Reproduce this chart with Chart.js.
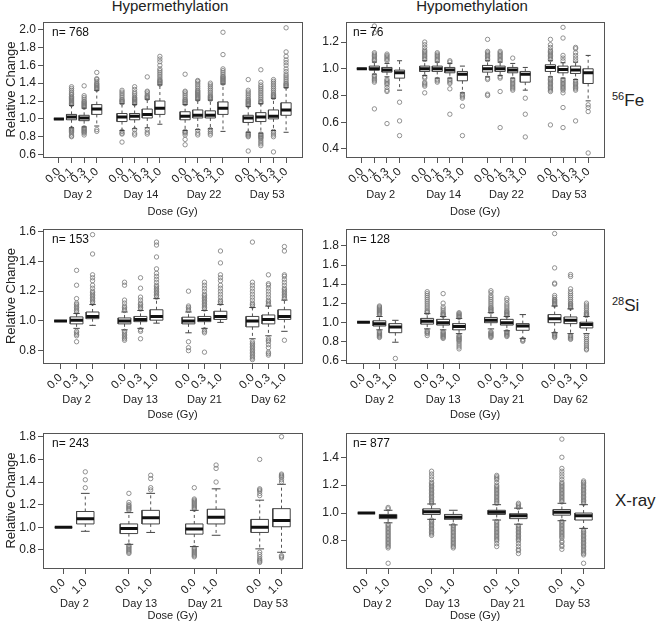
<!DOCTYPE html>
<html>
<head>
<meta charset="utf-8">
<script src="https://cdn.jsdelivr.net/npm/chart.js@4/dist/chart.umd.min.js"></script>
<style>
  body { margin: 0; background: #fff; font-family: "Liberation Sans", Arial, sans-serif; color: #222; }
  #wrap { position: relative; width: 658px; height: 623px; overflow: hidden; }
  canvas { position: absolute; }
  .coltitle { position: absolute; top: -2px; font-size: 15px; line-height: 15px; transform: translateX(-50%); white-space: nowrap; }
  .rowlabel { position: absolute; font-size: 17px; line-height: 20px; white-space: nowrap; }
  .rowlabel sup { font-size: 11px; vertical-align: 6px; }
</style>
</head>
<body>
<div id="wrap">
  <div class="coltitle" style="left:170px">Hypermethylation</div>
  <div class="coltitle" style="left:472px">Hypomethylation</div>
  <div class="rowlabel" style="left:612px;top:86px"><sup>56</sup>Fe</div>
  <div class="rowlabel" style="left:612px;top:291px"><sup>28</sup>Si</div>
  <div class="rowlabel" style="left:615px;top:491px">X-ray</div>

  <canvas id="feHyper" width="320" height="207" style="left:0;top:12px"></canvas>
  <canvas id="feHypo" width="338" height="207" style="left:320px;top:12px"></canvas>
  <canvas id="siHyper" width="320" height="203" style="left:0;top:219px"></canvas>
  <canvas id="siHypo" width="338" height="203" style="left:320px;top:219px"></canvas>
  <canvas id="xHyper" width="320" height="200" style="left:0;top:423px"></canvas>
  <canvas id="xHypo" width="338" height="200" style="left:320px;top:423px"></canvas>
</div>
<script>
// categories
const feDays = ["Day 2", "Day 14", "Day 22", "Day 53"];
const feDoses = ["0.0", "0.1", "0.3", "1.0"];
const siDays = ["Day 2", "Day 13", "Day 21", "Day 62"];
const siDoses = ["0.0", "0.3", "1.0"];
const xDays = ["Day 2", "Day 13", "Day 21", "Day 53"];
const xDoses = ["0.0", "1.0"];

// y tick labels
const feHyperTicks = [0.6, 0.8, 1.0, 1.2, 1.4, 1.6, 1.8, 2.0];
const feHypoTicks = [0.4, 0.6, 0.8, 1.0, 1.2];
const siHyperTicks = [0.8, 1.0, 1.2, 1.4, 1.6];
const siHypoTicks = [0.6, 0.8, 1.0, 1.2, 1.4, 1.6, 1.8];
const xHyperTicks = [0.8, 1.0, 1.2, 1.4, 1.6, 1.8];
const xHypoTicks = [0.8, 1.0, 1.2, 1.4];

// box stats per box: [lower whisker, q1, median, q3, upper whisker]
const feHyperBoxes = [
  [1, 1, 1, 1, 1], [0.90, 0.99, 1.02, 1.05, 1.15], [0.91, 0.98, 1.01, 1.04, 1.12], [0.92, 1.05, 1.11, 1.16, 1.32],
  [0.87, 0.97, 1.02, 1.06, 1.17], [0.89, 0.99, 1.03, 1.06, 1.16], [0.90, 1.01, 1.05, 1.11, 1.22], [0.94, 1.05, 1.12, 1.20, 1.38],
  [0.87, 0.99, 1.03, 1.08, 1.16], [0.88, 1.01, 1.04, 1.10, 1.21], [0.89, 1.01, 1.04, 1.09, 1.21], [0.86, 1.05, 1.12, 1.19, 1.39],
  [0.85, 0.96, 1.01, 1.04, 1.14], [0.84, 0.97, 1.02, 1.07, 1.17], [0.87, 1.00, 1.03, 1.10, 1.23], [0.85, 1.04, 1.10, 1.18, 1.35]
];
const feHyperOut = [
  [],
  [1.16, 1.17, 1.18, 1.19, 1.20, 1.21, 1.22, 1.23, 1.24, 1.25, 1.27, 1.28, 1.30, 1.32, 1.34, 1.36, 0.89, 0.88, 0.87, 0.86, 0.85, 0.83, 0.81, 0.80],
  [1.13, 1.14, 1.15, 1.16, 1.17, 1.18, 1.19, 1.20, 1.22, 1.24, 1.26, 1.37, 0.90, 0.89, 0.88, 0.87, 0.86, 0.85, 0.84, 0.82],
  [1.33, 1.34, 1.35, 1.36, 1.37, 1.38, 1.39, 1.40, 1.42, 1.44, 1.45, 1.52, 0.88, 0.86],
  [1.18, 1.19, 1.20, 1.21, 1.22, 1.24, 1.26, 1.28, 1.30, 1.32, 0.86, 0.84, 0.83, 0.74],
  [1.17, 1.18, 1.19, 1.20, 1.21, 1.22, 1.23, 1.24, 1.26, 1.28, 1.30, 1.33, 1.36, 0.88, 0.84, 0.82],
  [1.23, 1.24, 1.25, 1.26, 1.28, 1.30, 1.31, 1.47, 0.88, 0.85, 0.83],
  [1.39, 1.40, 1.41, 1.42, 1.43, 1.44, 1.46, 1.48, 1.50, 1.52, 1.54, 1.56, 1.60, 1.64, 1.67, 1.70],
  [1.17, 1.18, 1.19, 1.20, 1.21, 1.22, 1.24, 1.26, 1.28, 1.30, 1.31, 1.50, 0.86, 0.85, 0.84, 0.82, 0.77, 0.71],
  [1.22, 1.23, 1.24, 1.25, 1.26, 1.27, 1.28, 1.29, 1.30, 1.31, 1.32, 1.34, 1.36, 1.38, 1.40, 1.42, 1.43, 0.87, 0.84, 0.82],
  [1.22, 1.23, 1.24, 1.25, 1.26, 1.28, 1.30, 1.32, 1.34, 1.36, 1.38, 1.40, 0.88, 0.86, 0.84, 0.82],
  [1.40, 1.41, 1.42, 1.43, 1.44, 1.45, 1.46, 1.47, 1.48, 1.50, 1.52, 1.54, 1.56, 1.72, 1.97],
  [1.15, 1.16, 1.17, 1.18, 1.19, 1.20, 1.21, 1.22, 1.24, 1.26, 1.28, 1.30, 1.32, 1.44, 0.84, 0.83, 0.82, 0.81, 0.80, 0.64],
  [1.18, 1.19, 1.20, 1.22, 1.24, 1.26, 1.28, 1.30, 1.32, 1.34, 1.36, 1.38, 1.41, 1.55, 0.83, 0.82, 0.81, 0.80, 0.79, 0.78, 0.76, 0.74, 0.72, 0.70],
  [1.24, 1.25, 1.26, 1.27, 1.28, 1.30, 1.32, 1.34, 1.36, 1.38, 1.40, 1.42, 1.44, 0.86, 0.84, 0.82, 0.80, 0.63],
  [1.36, 1.37, 1.38, 1.39, 1.40, 1.42, 1.44, 1.46, 1.48, 1.50, 1.53, 1.56, 1.60, 1.63, 1.66, 1.70, 1.75, 2.02]
];

const feHypoBoxes = [
  [1, 1, 1, 1, 1], [0.96, 0.99, 1.00, 1.02, 1.05], [0.94, 0.975, 0.99, 1.01, 1.04], [0.84, 0.93, 0.97, 0.99, 1.06],
  [0.95, 0.98, 1.00, 1.02, 1.06], [0.93, 0.98, 1.00, 1.02, 1.05], [0.93, 0.97, 0.99, 1.01, 1.04], [0.82, 0.91, 0.96, 0.98, 1.02],
  [0.94, 0.975, 1.00, 1.025, 1.06], [0.95, 0.98, 1.00, 1.02, 1.05], [0.93, 0.97, 0.99, 1.01, 1.04], [0.84, 0.90, 0.96, 0.98, 1.01],
  [0.94, 0.98, 1.01, 1.03, 1.06], [0.93, 0.97, 0.995, 1.02, 1.045], [0.92, 0.965, 0.99, 1.02, 1.05], [0.76, 0.89, 0.97, 1.00, 1.10]
];
const feHypoOut = [
  [],
  [1.06, 1.07, 1.08, 1.09, 1.10, 1.11, 1.12, 1.27, 1.32, 0.95, 0.94, 0.93, 0.92, 0.91, 0.90, 0.70],
  [1.06, 1.07, 1.08, 1.09, 1.10, 1.11, 0.92, 0.91, 0.90, 0.89, 0.88, 0.86, 0.84, 0.83, 0.59],
  [0.75, 0.61, 0.50],
  [1.07, 1.08, 1.09, 1.10, 1.11, 1.12, 1.13, 1.14, 1.16, 1.18, 1.20, 0.94, 0.93, 0.90, 0.89, 0.88, 0.87, 0.82],
  [1.06, 1.07, 1.08, 1.09, 1.10, 1.11, 1.12, 0.92, 0.91, 0.90],
  [1.05, 1.06, 0.92, 0.91, 0.90, 0.89, 0.85, 0.66],
  [0.81, 0.80, 0.79, 0.78, 0.72, 0.50],
  [1.07, 1.08, 1.09, 1.10, 1.11, 1.12, 1.13, 1.22, 0.93, 0.92, 0.81, 0.80],
  [1.06, 1.07, 1.08, 1.09, 1.10, 1.11, 1.12, 1.13, 0.94, 0.93, 0.83, 0.56],
  [1.08, 0.92, 0.91, 0.90, 0.89, 0.88, 0.87, 0.86, 0.85, 0.84],
  [0.78, 0.66, 0.49],
  [1.07, 1.08, 1.09, 1.10, 1.11, 1.12, 1.13, 1.14, 1.16, 1.18, 1.22, 0.93, 0.92, 0.91, 0.90, 0.89, 0.88, 0.87, 0.86, 0.85, 0.84, 0.83, 0.58],
  [1.06, 1.08, 1.10, 1.23, 1.31, 0.92, 0.91, 0.90, 0.89, 0.88, 0.87, 0.86, 0.85, 0.84, 0.82, 0.71, 0.56],
  [1.06, 1.08, 1.10, 1.12, 1.15, 1.16, 0.91, 0.90, 0.89, 0.88, 0.87, 0.86, 0.85, 0.84, 0.61],
  [0.73, 0.71, 0.68, 0.37]
];

const siHyperBoxes = [
  [1, 1, 1, 1, 1], [0.95, 0.98, 1.005, 1.027, 1.05], [0.97, 1.015, 1.03, 1.06, 1.11],
  [0.94, 0.98, 1.00, 1.02, 1.06], [0.95, 0.995, 1.01, 1.03, 1.07], [0.985, 1.005, 1.03, 1.075, 1.15],
  [0.92, 0.98, 1.00, 1.025, 1.06], [0.95, 0.995, 1.01, 1.03, 1.07], [0.99, 1.01, 1.03, 1.065, 1.11],
  [0.88, 0.96, 1.00, 1.03, 1.09], [0.90, 0.98, 1.01, 1.04, 1.10], [0.93, 1.01, 1.03, 1.075, 1.14]
];
const siHyperOut = [
  [],
  [1.06, 1.07, 1.08, 1.09, 1.10, 1.11, 1.12, 1.15, 1.24, 1.34, 0.93, 0.92, 0.91, 0.90, 0.86],
  [1.12, 1.13, 1.14, 1.15, 1.16, 1.17, 1.18, 1.19, 1.20, 1.22, 1.24, 1.27, 1.29, 1.31, 1.45, 1.58],
  [1.07, 1.08, 1.09, 1.10, 1.12, 1.14, 1.24, 1.26, 0.93, 0.92, 0.91, 0.90, 0.89, 0.88, 0.87],
  [1.08, 1.09, 1.10, 1.11, 1.12, 1.14, 1.16, 1.22, 1.29, 0.94, 0.93, 0.88],
  [1.16, 1.17, 1.18, 1.19, 1.20, 1.21, 1.22, 1.23, 1.24, 1.26, 1.28, 1.30, 1.32, 1.35, 1.43, 1.51, 1.53],
  [1.07, 1.08, 1.09, 1.10, 1.20, 0.86, 0.82, 0.80],
  [1.08, 1.09, 1.10, 1.11, 1.12, 1.13, 1.14, 1.15, 1.16, 1.17, 1.18, 1.20, 1.22, 1.24, 1.26, 0.94, 0.93, 0.92, 0.79],
  [1.12, 1.13, 1.14, 1.16, 1.18, 1.20, 1.22, 1.24, 1.27, 1.29, 1.31, 1.39, 1.47],
  [1.10, 1.11, 1.12, 1.14, 1.16, 1.18, 1.20, 1.22, 1.24, 1.26, 1.53, 0.86, 0.85, 0.84, 0.83, 0.82, 0.81, 0.80, 0.79, 0.78, 0.77, 0.76, 0.75, 0.74],
  [1.11, 1.12, 1.13, 1.14, 1.16, 1.18, 1.20, 1.22, 1.24, 1.25, 1.31, 0.88, 0.87, 0.86, 0.84, 0.82, 0.79, 0.78, 0.77],
  [1.15, 1.16, 1.17, 1.18, 1.19, 1.20, 1.21, 1.22, 1.24, 1.26, 1.28, 1.30, 1.31, 1.47, 1.50, 0.87]
];

const siHypoBoxes = [
  [1, 1, 1, 1, 1], [0.92, 0.96, 0.985, 1.015, 1.06], [0.79, 0.89, 0.95, 0.985, 1.02],
  [0.93, 0.98, 1.01, 1.04, 1.09], [0.92, 0.97, 0.995, 1.03, 1.06], [0.88, 0.92, 0.955, 0.985, 1.04],
  [0.93, 0.995, 1.02, 1.05, 1.10], [0.91, 0.97, 0.995, 1.03, 1.06], [0.83, 0.915, 0.96, 0.985, 1.08],
  [0.89, 0.995, 1.035, 1.08, 1.17], [0.88, 0.985, 1.02, 1.055, 1.14], [0.88, 0.94, 0.975, 1.00, 1.06]
];
const siHypoOut = [
  [],
  [1.08, 1.09, 1.10, 1.11, 1.12, 1.13, 1.14, 1.15, 1.16, 1.17, 0.90, 0.89, 0.88, 0.87, 0.86, 0.85, 0.84],
  [0.62],
  [1.10, 1.11, 1.12, 1.14, 1.16, 1.18, 1.20, 1.22, 1.24, 1.26, 1.28, 1.30, 1.32, 0.91, 0.90, 0.89, 0.88, 0.86],
  [1.07, 1.08, 1.09, 1.10, 1.12, 1.14, 1.16, 1.20, 1.30, 0.90, 0.89, 0.88, 0.87, 0.86, 0.85, 0.84, 0.83],
  [1.05, 1.06, 1.07, 1.08, 1.09, 1.10, 0.86, 0.85, 0.84, 0.83, 0.82, 0.81, 0.80, 0.78, 0.76, 0.74, 0.72],
  [1.11, 1.12, 1.13, 1.14, 1.15, 1.16, 1.18, 1.20, 1.22, 1.24, 1.26, 1.28, 1.31, 1.33, 0.90, 0.89, 0.88, 0.87, 0.86, 0.85, 0.84],
  [1.07, 1.08, 1.09, 1.10, 1.11, 1.12, 1.14, 1.16, 1.18, 1.20, 1.23, 1.25, 0.90, 0.89, 0.88, 0.87, 0.86, 0.85],
  [0.82, 0.81, 0.80],
  [1.18, 1.19, 1.20, 1.21, 1.22, 1.23, 1.24, 1.26, 1.28, 1.40, 1.41, 1.57, 1.93, 0.88, 0.87, 0.86, 0.85, 0.84],
  [1.15, 1.16, 1.17, 1.18, 1.19, 1.20, 1.22, 1.24, 1.26, 1.28, 1.30, 1.32, 1.35, 1.48, 1.50, 0.86, 0.85, 0.84, 0.83, 0.82],
  [1.07, 1.08, 1.09, 1.10, 1.12, 1.14, 1.16, 1.18, 1.20, 0.86, 0.84, 0.82, 0.80, 0.78, 0.76, 0.74, 0.72, 0.71]
];

const xHyperBoxes = [
  [1, 1, 1, 1, 1], [0.965, 1.03, 1.075, 1.14, 1.30],
  [0.85, 0.945, 0.99, 1.03, 1.13], [0.955, 1.03, 1.085, 1.15, 1.30],
  [0.83, 0.94, 0.985, 1.03, 1.15], [0.93, 1.03, 1.09, 1.16, 1.34],
  [0.81, 0.955, 1.00, 1.07, 1.24], [0.78, 1.005, 1.06, 1.165, 1.38]
];
const xHyperOut = [
  [],
  [1.35, 1.42, 1.49],
  [1.15, 1.16, 1.17, 1.18, 1.19, 1.20, 1.22, 1.30, 0.84, 0.83, 0.82, 0.81, 0.80, 0.79, 0.78, 0.77],
  [1.33, 1.35, 1.43, 1.46],
  [1.16, 1.17, 1.18, 1.19, 1.20, 1.21, 1.22, 1.23, 1.24, 1.25, 1.35, 0.82, 0.81, 0.80, 0.79, 0.78, 0.77, 0.76, 0.75, 0.74],
  [1.40, 1.52, 1.55],
  [1.28, 1.30, 1.32, 1.33, 1.34, 1.60, 0.78, 0.76, 0.74, 0.72, 0.71, 0.70, 0.69],
  [1.40, 1.42, 1.44, 1.45, 1.46, 1.47, 1.80, 0.75, 0.74, 0.73]
];

const xHypoBoxes = [
  [1, 1, 1, 1, 1], [0.93, 0.96, 0.975, 0.99, 1.02],
  [0.955, 0.99, 1.01, 1.03, 1.065], [0.915, 0.955, 0.97, 0.99, 1.02],
  [0.95, 0.99, 1.005, 1.02, 1.06], [0.92, 0.96, 0.98, 0.995, 1.035],
  [0.945, 0.985, 1.005, 1.025, 1.07], [0.89, 0.95, 0.98, 1.00, 1.06]
];
const xHypoOut = [
  [],
  [1.03, 1.04, 0.92, 0.91, 0.90, 0.89, 0.88, 0.87, 0.86, 0.85, 0.84, 0.83, 0.82, 0.81, 0.80, 0.79, 0.78, 0.77, 0.76, 0.75, 0.64],
  [1.07, 1.08, 1.09, 1.10, 1.11, 1.12, 1.13, 1.14, 1.15, 1.16, 1.17, 1.18, 1.19, 1.20, 1.21, 1.22, 1.24, 1.26, 1.28, 1.30,
   0.95, 0.94, 0.93, 0.92, 0.91, 0.90, 0.89, 0.88, 0.87, 0.86, 0.85, 0.84],
  [0.91, 0.90, 0.89, 0.88, 0.87, 0.86, 0.85, 0.84, 0.83, 0.82, 0.81, 0.80, 0.79, 0.78, 0.77, 0.76, 0.75],
  [1.07, 1.08, 1.09, 1.10, 1.11, 1.12, 1.13, 1.14, 1.15, 1.16, 1.17, 1.18, 1.19, 1.20, 1.22, 1.24, 1.25, 1.26, 1.27,
   0.94, 0.93, 0.92, 0.91, 0.90, 0.89, 0.88, 0.87, 0.86, 0.85, 0.84, 0.83, 0.82, 0.81, 0.80, 0.78, 0.76],
  [1.04, 1.05, 1.06, 1.07, 0.91, 0.90, 0.89, 0.88, 0.87, 0.86, 0.85, 0.84, 0.83, 0.82, 0.81, 0.80, 0.78, 0.76, 0.74, 0.73, 0.71],
  [1.08, 1.09, 1.10, 1.11, 1.12, 1.13, 1.14, 1.15, 1.16, 1.17, 1.18, 1.19, 1.20, 1.21, 1.22, 1.24, 1.26, 1.28, 1.30, 1.32, 1.40, 1.53,
   0.94, 0.93, 0.92, 0.91, 0.90, 0.89, 0.88, 0.87, 0.86, 0.85, 0.84, 0.83, 0.82, 0.80, 0.79, 0.77, 0.76, 0.74],
  [1.07, 1.08, 1.09, 1.10, 1.11, 1.12, 1.13, 1.14, 1.15, 1.16, 1.17, 1.18, 1.19, 1.20, 1.21, 1.22, 1.23,
   0.88, 0.87, 0.86, 0.85, 0.84, 0.83, 0.82, 0.81, 0.80, 0.79, 0.78, 0.77, 0.76, 0.75, 0.74, 0.73, 0.72, 0.71, 0.70, 0.64]
];

Chart.defaults.font.family = '"Liberation Sans", Arial, sans-serif';
Chart.defaults.font.size = 12;
Chart.defaults.color = "#222";

// frame round the plot area plus the "n=" note
const framePlugin = {
  id: "frame",
  afterDatasetsDraw(chart, args, opts) {
    const { ctx, chartArea: a } = chart;
    ctx.save();
    ctx.strokeStyle = "#555";
    ctx.lineWidth = 1;
    ctx.strokeRect(Math.round(a.left) + 0.5, Math.round(a.top) + 0.5, Math.round(a.width), Math.round(a.height));
    ctx.fillStyle = "#111";
    ctx.font = '12px "Liberation Sans", Arial, sans-serif';
    ctx.textBaseline = "middle";
    ctx.fillText(opts.text, a.left + opts.dx, a.top + 11);
    ctx.restore();
  }
};

function makePanel(id, days, doses, boxes, outliers, yTicks, yMin, yMax, nText, left, doseH, dayH) {
  const k = doses.length;
  const pos = [];
  const centers = [];
  days.forEach((d, g) => {
    for (let i = 0; i < k; i++) pos.push(g * (k + 1) + i + 1);
    centers.push(g * (k + 1) + (k + 1) / 2);
  });
  const last = days.length * (k + 1) - 1;
  const pad = 0.04 * last;
  const xMin = 0.5 - pad, xMax = last + 0.5 + pad;

  const boxLine = [], medLine = [], whisk = [], caps = [], pts = [];
  boxes.forEach((b, i) => {
    const x = pos[i];
    const [lo, q1, med, q3, hi] = b;
    boxLine.push({ x: x - 0.4, y: q1 }, { x: x + 0.4, y: q1 }, { x: x + 0.4, y: q3 }, { x: x - 0.4, y: q3 }, { x: x - 0.4, y: q1 }, { x: x, y: null });
    medLine.push({ x: x - 0.4, y: med }, { x: x + 0.4, y: med }, { x: x, y: null });
    whisk.push({ x: x, y: q3 }, { x: x, y: hi }, { x: x, y: null }, { x: x, y: q1 }, { x: x, y: lo }, { x: x, y: null });
    caps.push({ x: x - 0.2, y: hi }, { x: x + 0.2, y: hi }, { x: x, y: null }, { x: x - 0.2, y: lo }, { x: x + 0.2, y: lo }, { x: x, y: null });
    outliers[i].forEach(v => pts.push({ x: x, y: v }));
  });

  const lineSet = (data, color, width, dash) => ({
    type: "line", data, xAxisID: "x", yAxisID: "y",
    borderColor: color, borderWidth: width, borderDash: dash || [],
    pointRadius: 0, spanGaps: false, fill: false, tension: 0,
    borderCapStyle: "butt", borderJoinStyle: "miter"
  });

  new Chart(document.getElementById(id), {
    type: "scatter",
    data: {
      datasets: [
        lineSet(medLine, "#111", 3),
        lineSet(boxLine, "#444", 1),
        lineSet(caps, "#444", 1),
        lineSet(whisk, "#555", 1, [3, 3]),
        {
          type: "scatter", data: pts, xAxisID: "x", yAxisID: "y",
          pointStyle: "circle", pointRadius: 2.2, pointBorderWidth: 0.8,
          borderColor: "#777", backgroundColor: "rgba(0,0,0,0)"
        }
      ]
    },
    options: {
      responsive: false,
      animation: false,
      events: [],
      layout: { padding: { left: 0, right: left ? 18 : 54, top: 10, bottom: 0 } },
      plugins: {
        legend: { display: false },
        tooltip: { enabled: false },
        frame: { text: nText, dx: left ? 9 : 7 }
      },
      scales: {
        x: {
          type: "linear", position: "bottom", min: xMin, max: xMax, weight: 0,
          afterBuildTicks: s => { s.ticks = pos.map(v => ({ value: v })); },
          afterFit: s => { s.height = doseH; },
          grid: { drawOnChartArea: false, drawTicks: true, tickLength: 6, color: "#555" },
          border: { display: false },
          ticks: {
            autoSkip: false, minRotation: 45, maxRotation: 45, padding: 2,
            font: { size: 11.5 },
            callback: (v, i) => doses[i % k]
          }
        },
        xDay: {
          type: "linear", position: "bottom", min: xMin, max: xMax, weight: 1,
          afterBuildTicks: s => { s.ticks = centers.map(v => ({ value: v })); },
          afterFit: s => { s.height = dayH; },
          grid: { display: false, drawTicks: false },
          border: { display: false },
          ticks: { autoSkip: false, maxRotation: 0, minRotation: 0, padding: 0, font: { size: 11 }, callback: (v, i) => days[i] },
          title: { display: true, text: "Dose (Gy)", font: { size: 11 }, padding: { top: 0, bottom: 0 } }
        },
        y: {
          type: "linear", position: "left", min: yMin, max: yMax,
          afterBuildTicks: s => { s.ticks = yTicks.map(v => ({ value: v })); },
          afterFit: s => { s.width = left ? 43 : 26; },
          grid: { drawOnChartArea: false, drawTicks: true, tickLength: 5, color: "#555" },
          border: { display: false },
          ticks: { padding: 2, callback: v => v.toFixed(1) },
          title: { display: left, text: "Relative Change", font: { size: 13 }, padding: { top: 4, bottom: 0 } }
        }
      }
    },
    plugins: [framePlugin]
  });
}

makePanel("feHyper", feDays, feDoses, feHyperBoxes, feHyperOut, feHyperTicks, 0.573, 2.085, "n= 768", true, 31, 31);
makePanel("feHypo", feDays, feDoses, feHypoBoxes, feHypoOut, feHypoTicks, 0.34, 1.35, "n= 76", false, 31, 31);
makePanel("siHyper", siDays, siDoses, siHyperBoxes, siHyperOut, siHyperTicks, 0.717, 1.618, "n= 153", true, 30, 29);
makePanel("siHypo", siDays, siDoses, siHypoBoxes, siHypoOut, siHypoTicks, 0.572, 1.978, "n= 128", false, 30, 29);
makePanel("xHyper", xDays, xDoses, xHyperBoxes, xHyperOut, xHyperTicks, 0.641, 1.833, "n= 243", true, 29, 26);
makePanel("xHypo", xDays, xDoses, xHypoBoxes, xHypoOut, xHypoTicks, 0.606, 1.574, "n= 877", false, 29, 26);
</script>
</body>
</html>
